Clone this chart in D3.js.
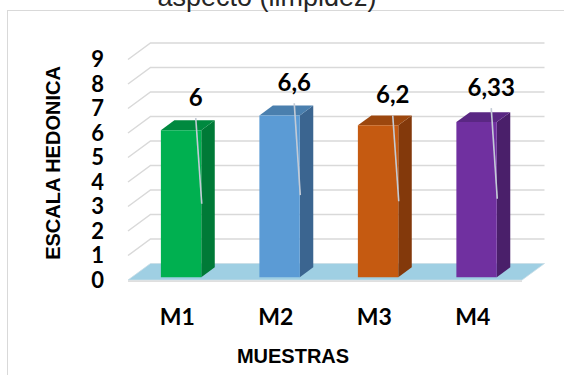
<!DOCTYPE html>
<html lang="es">
<head>
    <meta charset="UTF-8">
    <title>Escala hedonica - aspecto (limpidez)</title>
    <script src="https://cdn.jsdelivr.net/npm/d3@7/dist/d3.min.js"></script>
    <style>
        body { margin: 0; background: #fff; }
    </style>
</head>
<body>
<script type="application/javascript">
    // datos
    const categories = ['M1', 'M2', 'M3', 'M4'];
    const values = [6, 6.6, 6.2, 6.33];
    const valueLabels = ['6', '6,6', '6,2', '6,33'];
    const errHigh = [6.5, 7.1, 6.6, 6.9];
    const errLow = [3.0, 3.35, 3.1, 3.2];
    const yTicks = [0, 1, 2, 3, 4, 5, 6, 7, 8, 9];

    const frontColors = ['#00b050', '#5b9bd5', '#c55a11', '#7030a0'];
    const sideColors = ['#007a37', '#3b6590', '#83390b', '#4a1f6a'];
    const topColors = ['#00893f', '#4a7fae', '#9c470e', '#5a2783'];

    const w = 564, h = 375;

    // profundidad del efecto 3D
    const DX = 22.5, DY = -16.5;
    const zFront = 0.17, zBack = 0.77;

    let svg = d3.select('body')
        .append('svg')
        .attr('width', w)
        .attr('height', h);

    // marco del area del grafico
    svg.append('rect')
        .attr('x', 7.5).attr('y', 10.5)
        .attr('width', 700).attr('height', 500)
        .attr('fill', 'none')
        .attr('stroke', '#d9d9d9');

    // titulo (cortado arriba, igual que el original)
    svg.append('text')
        .attr('x', 267).attr('y', 6)
        .attr('text-anchor', 'middle')
        .attr('font-family', 'Liberation Sans, Arial, sans-serif')
        .attr('font-size', '27px')
        .attr('fill', '#262626')
        .text('aspecto (limpidez)');

    let xScale = d3.scaleBand()
        .domain(categories)
        .range([128, 522]);

    let yScale = d3.scaleLinear()
        .domain([0, 9])
        .range([280, 59.5]);

    const P = (x, v, z) => [x + z * DX, yScale(v) + z * DY];
    const poly = pts => pts.map(p => p.join(',')).join(' ');

    // lineas de la pared lateral y del fondo
    let grid = svg.append('g');
    grid.selectAll('polyline')
        .data(yTicks.filter(d => d > 0))
        .enter()
        .append('polyline')
        .attr('points', d => poly([P(128, d, 0), P(128, d, 1), P(522, d, 1)]))
        .attr('fill', 'none')
        .attr('stroke', '#d9d9d9')
        .attr('stroke-width', 1.5);

    // piso
    svg.append('polygon')
        .attr('points', poly([P(128, 0, 0), P(522, 0, 0), P(522, 0, 1), P(128, 0, 1)]))
        .attr('fill', '#9fcfe3')
        .attr('stroke', '#c9dde6')
        .attr('stroke-width', 0.8);
    svg.append('line')
        .attr('x1', 128).attr('x2', 522)
        .attr('y1', yScale(0) + 1.2).attr('y2', yScale(0) + 1.2)
        .attr('stroke', '#d4d4d4')
        .attr('stroke-width', 1.2);

    // barras
    const bw = xScale.bandwidth() * 0.41;
    const cx = d => xScale(d) + xScale.bandwidth() / 2;

    let bars = svg.selectAll('g.bar')
        .data(categories)
        .enter()
        .append('g')
        .attr('class', 'bar');

    bars.append('polygon')
        .attr('points', (d, i) => {
            let xr = cx(d) + bw / 2;
            return poly([P(xr, 0, zFront), P(xr, 0, zBack), P(xr, values[i], zBack), P(xr, values[i], zFront)]);
        })
        .attr('fill', (d, i) => sideColors[i]);

    bars.append('polygon')
        .attr('points', (d, i) => {
            let xl = cx(d) - bw / 2, xr = cx(d) + bw / 2;
            return poly([P(xl, values[i], zFront), P(xr, values[i], zFront), P(xr, values[i], zBack), P(xl, values[i], zBack)]);
        })
        .attr('fill', (d, i) => topColors[i]);

    bars.append('polygon')
        .attr('points', (d, i) => {
            let xl = cx(d) - bw / 2, xr = cx(d) + bw / 2;
            return poly([P(xl, 0, zFront), P(xr, 0, zFront), P(xr, values[i], zFront), P(xl, values[i], zFront)]);
        })
        .attr('fill', (d, i) => frontColors[i]);

    // barras de error
    const errTop = (d, i) => [cx(d) + 18.5, P(0, errHigh[i], zFront)[1]];
    const errBot = (d, i) => [cx(d) + 24.5, P(0, errLow[i], zFront)[1]];

    bars.append('line')
        .attr('x1', (d, i) => errTop(d, i)[0])
        .attr('y1', (d, i) => errTop(d, i)[1])
        .attr('x2', (d, i) => errBot(d, i)[0])
        .attr('y2', (d, i) => errBot(d, i)[1])
        .attr('stroke', '#c3cbd6')
        .attr('stroke-width', 1.6);

    // etiquetas de valor
    bars.append('text')
        .attr('x', (d, i) => errTop(d, i)[0])
        .attr('y', (d, i) => errTop(d, i)[1] - 12)
        .attr('text-anchor', 'middle')
        .attr('font-family', 'Lato, sans-serif')
        .attr('font-weight', 'bold')
        .attr('font-size', '24px')
        .attr('fill', '#000')
        .text((d, i) => valueLabels[i]);

    // eje Y
    svg.append('g')
        .selectAll('text')
        .data(yTicks)
        .enter()
        .append('text')
        .attr('x', 104)
        .attr('y', d => yScale(d))
        .attr('dy', '0.36em')
        .attr('text-anchor', 'end')
        .attr('font-family', 'Lato, sans-serif')
        .attr('font-weight', 'bold')
        .attr('font-size', '22px')
        .attr('fill', '#000')
        .text(d => d);

    // eje X
    svg.append('g')
        .selectAll('text')
        .data(categories)
        .enter()
        .append('text')
        .attr('x', d => cx(d))
        .attr('y', 325)
        .attr('text-anchor', 'middle')
        .attr('font-family', 'Lato, sans-serif')
        .attr('font-weight', 'bold')
        .attr('font-size', '23px')
        .attr('fill', '#000')
        .text(d => d);

    svg.append('text')
        .attr('transform', 'translate(60,163) rotate(-90)')
        .attr('text-anchor', 'middle')
        .attr('font-family', 'Liberation Sans, Arial, sans-serif')
        .attr('font-weight', 'bold')
        .attr('font-size', '20px')
        .attr('fill', '#000')
        .text('ESCALA HEDONICA');

    svg.append('text')
        .attr('x', 293).attr('y', 363)
        .attr('text-anchor', 'middle')
        .attr('font-family', 'Liberation Sans, Arial, sans-serif')
        .attr('font-weight', 'bold')
        .attr('font-size', '20px')
        .attr('fill', '#000')
        .text('MUESTRAS');
</script>
</body>
</html>
